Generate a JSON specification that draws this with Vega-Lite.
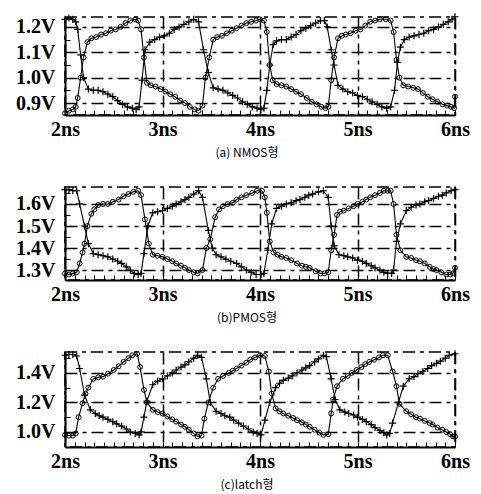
{
"$schema":"https://vega.github.io/schema/vega-lite/v6.json",
"background":"white",
"padding":{"left":14,"top":10,"right":5,"bottom":0},
"spacing":22,
"config":{
 "view":{"stroke":"black","strokeDash":[12,5,4,5],"strokeWidth":1.5},
 "axis":{"domainColor":"black","domainWidth":2,"tickColor":"black","tickWidth":1,"tickSize":-5,"labelFont":"Liberation Serif","labelFontWeight":"bold","labelFontSize":20,"labelColor":"black","gridColor":"black","gridDash":[12,5,4,5],"gridWidth":1.5,"title":null,"labelOverlap":false,"labelFlush":false},
 "axisX":{"labelPadding":9},
 "axisY":{"labelPadding":15},
 "title":{"font":"Noto Sans CJK KR","fontSize":12,"fontWeight":"normal","color":"black","orient":"bottom","offset":9,"anchor":"middle","frame":"group","dx":-13}
},
"datasets":{
"a":[
{"s":"A","t":2.0,"v":0.86},{"s":"A","t":2.04,"v":0.87},{"s":"A","t":2.08,"v":0.875},{"s":"A","t":2.11,"v":0.885},{"s":"A","t":2.13,"v":0.92},{"s":"A","t":2.16,"v":1.0},{"s":"A","t":2.19,"v":1.08},{"s":"A","t":2.23,"v":1.14},{"s":"A","t":2.27,"v":1.155},{"s":"A","t":2.32,"v":1.16},{"s":"A","t":2.37,"v":1.17},{"s":"A","t":2.42,"v":1.175},{"s":"A","t":2.47,"v":1.185},{"s":"A","t":2.52,"v":1.19},{"s":"A","t":2.57,"v":1.2},{"s":"A","t":2.62,"v":1.215},{"s":"A","t":2.67,"v":1.225},{"s":"A","t":2.72,"v":1.23},{"s":"A","t":2.75,"v":1.225},{"s":"A","t":2.78,"v":1.19},{"s":"A","t":2.81,"v":1.08},{"s":"A","t":2.84,"v":0.98},{"s":"A","t":2.88,"v":0.97},{"s":"A","t":2.93,"v":0.965},{"s":"A","t":2.98,"v":0.955},{"s":"A","t":3.03,"v":0.945},{"s":"A","t":3.08,"v":0.935},{"s":"A","t":3.13,"v":0.925},{"s":"A","t":3.18,"v":0.91},{"s":"A","t":3.23,"v":0.9},{"s":"A","t":3.28,"v":0.885},{"s":"A","t":3.33,"v":0.875},{"s":"A","t":3.37,"v":0.87},{"s":"A","t":3.41,"v":0.89},{"s":"A","t":3.44,"v":1.0},{"s":"A","t":3.48,"v":1.08},{"s":"A","t":3.52,"v":1.15},{"s":"A","t":3.56,"v":1.16},{"s":"A","t":3.61,"v":1.165},{"s":"A","t":3.66,"v":1.175},{"s":"A","t":3.71,"v":1.185},{"s":"A","t":3.76,"v":1.195},{"s":"A","t":3.81,"v":1.205},{"s":"A","t":3.86,"v":1.215},{"s":"A","t":3.91,"v":1.22},{"s":"A","t":3.96,"v":1.225},{"s":"A","t":4.0,"v":1.23},{"s":"A","t":4.04,"v":1.225},{"s":"A","t":4.07,"v":1.18},{"s":"A","t":4.1,"v":1.05},{"s":"A","t":4.13,"v":0.99},{"s":"A","t":4.17,"v":0.975},{"s":"A","t":4.22,"v":0.97},{"s":"A","t":4.27,"v":0.965},{"s":"A","t":4.32,"v":0.955},{"s":"A","t":4.37,"v":0.945},{"s":"A","t":4.42,"v":0.935},{"s":"A","t":4.48,"v":0.92},{"s":"A","t":4.53,"v":0.905},{"s":"A","t":4.58,"v":0.895},{"s":"A","t":4.63,"v":0.885},{"s":"A","t":4.67,"v":0.88},{"s":"A","t":4.7,"v":0.885},{"s":"A","t":4.73,"v":0.99},{"s":"A","t":4.76,"v":1.08},{"s":"A","t":4.8,"v":1.155},{"s":"A","t":4.84,"v":1.165},{"s":"A","t":4.88,"v":1.17},{"s":"A","t":4.93,"v":1.175},{"s":"A","t":4.98,"v":1.185},{"s":"A","t":5.03,"v":1.19},{"s":"A","t":5.08,"v":1.205},{"s":"A","t":5.13,"v":1.22},{"s":"A","t":5.18,"v":1.225},{"s":"A","t":5.23,"v":1.23},{"s":"A","t":5.29,"v":1.23},{"s":"A","t":5.34,"v":1.225},{"s":"A","t":5.37,"v":1.18},{"s":"A","t":5.4,"v":1.07},{"s":"A","t":5.43,"v":1.0},{"s":"A","t":5.47,"v":0.97},{"s":"A","t":5.52,"v":0.965},{"s":"A","t":5.57,"v":0.96},{"s":"A","t":5.62,"v":0.955},{"s":"A","t":5.67,"v":0.94},{"s":"A","t":5.72,"v":0.925},{"s":"A","t":5.77,"v":0.915},{"s":"A","t":5.82,"v":0.905},{"s":"A","t":5.87,"v":0.895},{"s":"A","t":5.92,"v":0.89},{"s":"A","t":5.96,"v":0.885},{"s":"A","t":5.99,"v":0.88},{"s":"A","t":6.0,"v":0.925},
{"s":"B","t":2.0,"v":1.23},{"s":"B","t":2.04,"v":1.235},{"s":"B","t":2.08,"v":1.23},{"s":"B","t":2.11,"v":1.22},{"s":"B","t":2.13,"v":1.19},{"s":"B","t":2.16,"v":1.09},{"s":"B","t":2.19,"v":1.0},{"s":"B","t":2.24,"v":0.955},{"s":"B","t":2.29,"v":0.95},{"s":"B","t":2.34,"v":0.95},{"s":"B","t":2.39,"v":0.945},{"s":"B","t":2.44,"v":0.935},{"s":"B","t":2.49,"v":0.925},{"s":"B","t":2.54,"v":0.91},{"s":"B","t":2.59,"v":0.895},{"s":"B","t":2.64,"v":0.885},{"s":"B","t":2.69,"v":0.88},{"s":"B","t":2.73,"v":0.875},{"s":"B","t":2.76,"v":0.885},{"s":"B","t":2.79,"v":0.99},{"s":"B","t":2.82,"v":1.11},{"s":"B","t":2.87,"v":1.14},{"s":"B","t":2.92,"v":1.15},{"s":"B","t":2.97,"v":1.16},{"s":"B","t":3.02,"v":1.165},{"s":"B","t":3.07,"v":1.175},{"s":"B","t":3.12,"v":1.19},{"s":"B","t":3.17,"v":1.2},{"s":"B","t":3.22,"v":1.21},{"s":"B","t":3.27,"v":1.22},{"s":"B","t":3.32,"v":1.23},{"s":"B","t":3.37,"v":1.22},{"s":"B","t":3.42,"v":1.11},{"s":"B","t":3.47,"v":1.02},{"s":"B","t":3.52,"v":0.96},{"s":"B","t":3.57,"v":0.955},{"s":"B","t":3.62,"v":0.95},{"s":"B","t":3.67,"v":0.94},{"s":"B","t":3.72,"v":0.93},{"s":"B","t":3.77,"v":0.92},{"s":"B","t":3.82,"v":0.905},{"s":"B","t":3.87,"v":0.895},{"s":"B","t":3.92,"v":0.885},{"s":"B","t":3.97,"v":0.88},{"s":"B","t":4.01,"v":0.875},{"s":"B","t":4.04,"v":0.88},{"s":"B","t":4.07,"v":0.95},{"s":"B","t":4.1,"v":1.05},{"s":"B","t":4.135,"v":1.13},{"s":"B","t":4.17,"v":1.145},{"s":"B","t":4.22,"v":1.15},{"s":"B","t":4.27,"v":1.15},{"s":"B","t":4.32,"v":1.16},{"s":"B","t":4.37,"v":1.17},{"s":"B","t":4.42,"v":1.185},{"s":"B","t":4.47,"v":1.195},{"s":"B","t":4.52,"v":1.205},{"s":"B","t":4.57,"v":1.215},{"s":"B","t":4.62,"v":1.225},{"s":"B","t":4.66,"v":1.225},{"s":"B","t":4.69,"v":1.2},{"s":"B","t":4.73,"v":1.11},{"s":"B","t":4.76,"v":1.05},{"s":"B","t":4.8,"v":0.97},{"s":"B","t":4.85,"v":0.955},{"s":"B","t":4.9,"v":0.945},{"s":"B","t":4.95,"v":0.94},{"s":"B","t":5.0,"v":0.93},{"s":"B","t":5.05,"v":0.925},{"s":"B","t":5.1,"v":0.915},{"s":"B","t":5.15,"v":0.905},{"s":"B","t":5.2,"v":0.895},{"s":"B","t":5.25,"v":0.885},{"s":"B","t":5.3,"v":0.88},{"s":"B","t":5.34,"v":0.885},{"s":"B","t":5.38,"v":0.95},{"s":"B","t":5.41,"v":1.06},{"s":"B","t":5.44,"v":1.12},{"s":"B","t":5.48,"v":1.15},{"s":"B","t":5.53,"v":1.16},{"s":"B","t":5.58,"v":1.165},{"s":"B","t":5.63,"v":1.17},{"s":"B","t":5.68,"v":1.175},{"s":"B","t":5.73,"v":1.185},{"s":"B","t":5.78,"v":1.19},{"s":"B","t":5.83,"v":1.2},{"s":"B","t":5.88,"v":1.21},{"s":"B","t":5.93,"v":1.22},{"s":"B","t":5.97,"v":1.23},{"s":"B","t":6.0,"v":1.24}
],
"b":[
{"s":"A","t":2.0,"v":1.285},{"s":"A","t":2.04,"v":1.28},{"s":"A","t":2.08,"v":1.285},{"s":"A","t":2.12,"v":1.29},{"s":"A","t":2.15,"v":1.33},{"s":"A","t":2.18,"v":1.38},{"s":"A","t":2.2,"v":1.42},{"s":"A","t":2.23,"v":1.5},{"s":"A","t":2.27,"v":1.555},{"s":"A","t":2.3,"v":1.575},{"s":"A","t":2.34,"v":1.595},{"s":"A","t":2.39,"v":1.6},{"s":"A","t":2.44,"v":1.6},{"s":"A","t":2.49,"v":1.61},{"s":"A","t":2.55,"v":1.62},{"s":"A","t":2.6,"v":1.635},{"s":"A","t":2.65,"v":1.645},{"s":"A","t":2.7,"v":1.655},{"s":"A","t":2.75,"v":1.66},{"s":"A","t":2.78,"v":1.64},{"s":"A","t":2.82,"v":1.53},{"s":"A","t":2.86,"v":1.42},{"s":"A","t":2.9,"v":1.37},{"s":"A","t":2.95,"v":1.365},{"s":"A","t":3.0,"v":1.36},{"s":"A","t":3.05,"v":1.35},{"s":"A","t":3.1,"v":1.34},{"s":"A","t":3.14,"v":1.33},{"s":"A","t":3.19,"v":1.32},{"s":"A","t":3.23,"v":1.31},{"s":"A","t":3.27,"v":1.3},{"s":"A","t":3.32,"v":1.29},{"s":"A","t":3.36,"v":1.285},{"s":"A","t":3.41,"v":1.3},{"s":"A","t":3.45,"v":1.4},{"s":"A","t":3.49,"v":1.44},{"s":"A","t":3.54,"v":1.54},{"s":"A","t":3.58,"v":1.575},{"s":"A","t":3.62,"v":1.59},{"s":"A","t":3.67,"v":1.6},{"s":"A","t":3.72,"v":1.605},{"s":"A","t":3.76,"v":1.62},{"s":"A","t":3.81,"v":1.63},{"s":"A","t":3.86,"v":1.64},{"s":"A","t":3.92,"v":1.65},{"s":"A","t":3.97,"v":1.66},{"s":"A","t":4.02,"v":1.66},{"s":"A","t":4.05,"v":1.63},{"s":"A","t":4.07,"v":1.56},{"s":"A","t":4.1,"v":1.43},{"s":"A","t":4.14,"v":1.38},{"s":"A","t":4.18,"v":1.37},{"s":"A","t":4.22,"v":1.36},{"s":"A","t":4.27,"v":1.355},{"s":"A","t":4.32,"v":1.345},{"s":"A","t":4.38,"v":1.33},{"s":"A","t":4.43,"v":1.32},{"s":"A","t":4.47,"v":1.315},{"s":"A","t":4.51,"v":1.31},{"s":"A","t":4.57,"v":1.295},{"s":"A","t":4.62,"v":1.285},{"s":"A","t":4.66,"v":1.285},{"s":"A","t":4.7,"v":1.29},{"s":"A","t":4.73,"v":1.39},{"s":"A","t":4.76,"v":1.46},{"s":"A","t":4.79,"v":1.55},{"s":"A","t":4.82,"v":1.565},{"s":"A","t":4.86,"v":1.57},{"s":"A","t":4.91,"v":1.58},{"s":"A","t":4.96,"v":1.59},{"s":"A","t":5.0,"v":1.6},{"s":"A","t":5.05,"v":1.61},{"s":"A","t":5.09,"v":1.62},{"s":"A","t":5.13,"v":1.63},{"s":"A","t":5.18,"v":1.64},{"s":"A","t":5.23,"v":1.65},{"s":"A","t":5.27,"v":1.66},{"s":"A","t":5.31,"v":1.66},{"s":"A","t":5.34,"v":1.66},{"s":"A","t":5.37,"v":1.6},{"s":"A","t":5.4,"v":1.46},{"s":"A","t":5.44,"v":1.39},{"s":"A","t":5.5,"v":1.36},{"s":"A","t":5.55,"v":1.355},{"s":"A","t":5.6,"v":1.345},{"s":"A","t":5.64,"v":1.34},{"s":"A","t":5.69,"v":1.33},{"s":"A","t":5.74,"v":1.315},{"s":"A","t":5.78,"v":1.305},{"s":"A","t":5.81,"v":1.3},{"s":"A","t":5.86,"v":1.29},{"s":"A","t":5.91,"v":1.28},{"s":"A","t":5.95,"v":1.28},{"s":"A","t":5.98,"v":1.285},{"s":"A","t":6.0,"v":1.31},
{"s":"B","t":2.0,"v":1.665},{"s":"B","t":2.04,"v":1.665},{"s":"B","t":2.08,"v":1.66},{"s":"B","t":2.12,"v":1.66},{"s":"B","t":2.15,"v":1.6},{"s":"B","t":2.2,"v":1.5},{"s":"B","t":2.24,"v":1.42},{"s":"B","t":2.29,"v":1.375},{"s":"B","t":2.34,"v":1.37},{"s":"B","t":2.39,"v":1.365},{"s":"B","t":2.44,"v":1.36},{"s":"B","t":2.49,"v":1.35},{"s":"B","t":2.54,"v":1.34},{"s":"B","t":2.58,"v":1.33},{"s":"B","t":2.63,"v":1.315},{"s":"B","t":2.67,"v":1.3},{"s":"B","t":2.71,"v":1.285},{"s":"B","t":2.75,"v":1.28},{"s":"B","t":2.78,"v":1.285},{"s":"B","t":2.81,"v":1.375},{"s":"B","t":2.85,"v":1.5},{"s":"B","t":2.9,"v":1.56},{"s":"B","t":2.95,"v":1.565},{"s":"B","t":3.0,"v":1.57},{"s":"B","t":3.05,"v":1.58},{"s":"B","t":3.1,"v":1.59},{"s":"B","t":3.14,"v":1.6},{"s":"B","t":3.19,"v":1.61},{"s":"B","t":3.23,"v":1.62},{"s":"B","t":3.27,"v":1.63},{"s":"B","t":3.32,"v":1.645},{"s":"B","t":3.37,"v":1.66},{"s":"B","t":3.41,"v":1.63},{"s":"B","t":3.47,"v":1.48},{"s":"B","t":3.51,"v":1.4},{"s":"B","t":3.55,"v":1.37},{"s":"B","t":3.6,"v":1.36},{"s":"B","t":3.65,"v":1.35},{"s":"B","t":3.7,"v":1.34},{"s":"B","t":3.76,"v":1.33},{"s":"B","t":3.81,"v":1.315},{"s":"B","t":3.86,"v":1.3},{"s":"B","t":3.91,"v":1.29},{"s":"B","t":3.96,"v":1.28},{"s":"B","t":4.01,"v":1.28},{"s":"B","t":4.04,"v":1.285},{"s":"B","t":4.08,"v":1.39},{"s":"B","t":4.12,"v":1.51},{"s":"B","t":4.17,"v":1.58},{"s":"B","t":4.22,"v":1.59},{"s":"B","t":4.27,"v":1.6},{"s":"B","t":4.32,"v":1.605},{"s":"B","t":4.37,"v":1.615},{"s":"B","t":4.41,"v":1.62},{"s":"B","t":4.46,"v":1.63},{"s":"B","t":4.5,"v":1.64},{"s":"B","t":4.54,"v":1.645},{"s":"B","t":4.6,"v":1.655},{"s":"B","t":4.65,"v":1.66},{"s":"B","t":4.7,"v":1.63},{"s":"B","t":4.73,"v":1.5},{"s":"B","t":4.76,"v":1.41},{"s":"B","t":4.81,"v":1.37},{"s":"B","t":4.86,"v":1.365},{"s":"B","t":4.9,"v":1.36},{"s":"B","t":4.95,"v":1.355},{"s":"B","t":5.0,"v":1.345},{"s":"B","t":5.05,"v":1.34},{"s":"B","t":5.09,"v":1.33},{"s":"B","t":5.14,"v":1.32},{"s":"B","t":5.18,"v":1.31},{"s":"B","t":5.23,"v":1.3},{"s":"B","t":5.27,"v":1.29},{"s":"B","t":5.31,"v":1.285},{"s":"B","t":5.35,"v":1.285},{"s":"B","t":5.37,"v":1.3},{"s":"B","t":5.4,"v":1.43},{"s":"B","t":5.44,"v":1.51},{"s":"B","t":5.5,"v":1.57},{"s":"B","t":5.55,"v":1.585},{"s":"B","t":5.6,"v":1.595},{"s":"B","t":5.64,"v":1.6},{"s":"B","t":5.69,"v":1.61},{"s":"B","t":5.73,"v":1.615},{"s":"B","t":5.78,"v":1.625},{"s":"B","t":5.83,"v":1.635},{"s":"B","t":5.87,"v":1.64},{"s":"B","t":5.91,"v":1.65},{"s":"B","t":5.96,"v":1.66},{"s":"B","t":6.0,"v":1.665}
],
"c":[
{"s":"A","t":2.0,"v":0.98},{"s":"A","t":2.04,"v":0.975},{"s":"A","t":2.08,"v":0.975},{"s":"A","t":2.11,"v":0.99},{"s":"A","t":2.14,"v":1.1},{"s":"A","t":2.18,"v":1.195},{"s":"A","t":2.21,"v":1.26},{"s":"A","t":2.24,"v":1.3},{"s":"A","t":2.29,"v":1.36},{"s":"A","t":2.34,"v":1.37},{"s":"A","t":2.39,"v":1.375},{"s":"A","t":2.44,"v":1.395},{"s":"A","t":2.5,"v":1.42},{"s":"A","t":2.55,"v":1.445},{"s":"A","t":2.6,"v":1.475},{"s":"A","t":2.65,"v":1.5},{"s":"A","t":2.69,"v":1.52},{"s":"A","t":2.74,"v":1.53},{"s":"A","t":2.77,"v":1.44},{"s":"A","t":2.81,"v":1.285},{"s":"A","t":2.84,"v":1.2},{"s":"A","t":2.9,"v":1.15},{"s":"A","t":2.95,"v":1.135},{"s":"A","t":3.0,"v":1.125},{"s":"A","t":3.05,"v":1.105},{"s":"A","t":3.1,"v":1.085},{"s":"A","t":3.14,"v":1.07},{"s":"A","t":3.19,"v":1.05},{"s":"A","t":3.23,"v":1.035},{"s":"A","t":3.27,"v":1.015},{"s":"A","t":3.32,"v":0.99},{"s":"A","t":3.36,"v":0.97},{"s":"A","t":3.4,"v":0.975},{"s":"A","t":3.43,"v":1.09},{"s":"A","t":3.47,"v":1.2},{"s":"A","t":3.52,"v":1.3},{"s":"A","t":3.57,"v":1.36},{"s":"A","t":3.62,"v":1.38},{"s":"A","t":3.68,"v":1.4},{"s":"A","t":3.72,"v":1.415},{"s":"A","t":3.76,"v":1.43},{"s":"A","t":3.81,"v":1.45},{"s":"A","t":3.86,"v":1.47},{"s":"A","t":3.9,"v":1.49},{"s":"A","t":3.95,"v":1.505},{"s":"A","t":4.0,"v":1.52},{"s":"A","t":4.05,"v":1.515},{"s":"A","t":4.09,"v":1.41},{"s":"A","t":4.12,"v":1.26},{"s":"A","t":4.16,"v":1.16},{"s":"A","t":4.2,"v":1.14},{"s":"A","t":4.24,"v":1.125},{"s":"A","t":4.29,"v":1.11},{"s":"A","t":4.34,"v":1.095},{"s":"A","t":4.38,"v":1.08},{"s":"A","t":4.43,"v":1.065},{"s":"A","t":4.47,"v":1.05},{"s":"A","t":4.51,"v":1.035},{"s":"A","t":4.56,"v":1.015},{"s":"A","t":4.61,"v":0.995},{"s":"A","t":4.65,"v":0.98},{"s":"A","t":4.7,"v":0.985},{"s":"A","t":4.73,"v":1.125},{"s":"A","t":4.75,"v":1.22},{"s":"A","t":4.79,"v":1.31},{"s":"A","t":4.85,"v":1.36},{"s":"A","t":4.9,"v":1.38},{"s":"A","t":4.94,"v":1.4},{"s":"A","t":4.99,"v":1.42},{"s":"A","t":5.04,"v":1.44},{"s":"A","t":5.08,"v":1.46},{"s":"A","t":5.12,"v":1.475},{"s":"A","t":5.17,"v":1.49},{"s":"A","t":5.22,"v":1.505},{"s":"A","t":5.26,"v":1.52},{"s":"A","t":5.31,"v":1.52},{"s":"A","t":5.36,"v":1.41},{"s":"A","t":5.4,"v":1.31},{"s":"A","t":5.43,"v":1.19},{"s":"A","t":5.5,"v":1.14},{"s":"A","t":5.55,"v":1.12},{"s":"A","t":5.6,"v":1.1},{"s":"A","t":5.64,"v":1.09},{"s":"A","t":5.69,"v":1.075},{"s":"A","t":5.74,"v":1.06},{"s":"A","t":5.77,"v":1.05},{"s":"A","t":5.82,"v":1.03},{"s":"A","t":5.87,"v":1.015},{"s":"A","t":5.91,"v":1.0},{"s":"A","t":5.95,"v":0.985},{"s":"A","t":5.98,"v":0.97},{"s":"A","t":6.0,"v":0.97},
{"s":"B","t":2.0,"v":1.52},{"s":"B","t":2.04,"v":1.525},{"s":"B","t":2.08,"v":1.525},{"s":"B","t":2.12,"v":1.515},{"s":"B","t":2.15,"v":1.43},{"s":"B","t":2.2,"v":1.25},{"s":"B","t":2.26,"v":1.15},{"s":"B","t":2.31,"v":1.125},{"s":"B","t":2.35,"v":1.11},{"s":"B","t":2.39,"v":1.1},{"s":"B","t":2.44,"v":1.085},{"s":"B","t":2.49,"v":1.07},{"s":"B","t":2.53,"v":1.055},{"s":"B","t":2.58,"v":1.04},{"s":"B","t":2.63,"v":1.02},{"s":"B","t":2.67,"v":1.0},{"s":"B","t":2.72,"v":0.99},{"s":"B","t":2.76,"v":0.98},{"s":"B","t":2.78,"v":1.0},{"s":"B","t":2.81,"v":1.1},{"s":"B","t":2.84,"v":1.21},{"s":"B","t":2.9,"v":1.32},{"s":"B","t":2.95,"v":1.345},{"s":"B","t":3.0,"v":1.36},{"s":"B","t":3.05,"v":1.38},{"s":"B","t":3.1,"v":1.4},{"s":"B","t":3.14,"v":1.42},{"s":"B","t":3.19,"v":1.44},{"s":"B","t":3.23,"v":1.455},{"s":"B","t":3.27,"v":1.475},{"s":"B","t":3.32,"v":1.5},{"s":"B","t":3.36,"v":1.52},{"s":"B","t":3.4,"v":1.505},{"s":"B","t":3.45,"v":1.36},{"s":"B","t":3.49,"v":1.2},{"s":"B","t":3.55,"v":1.14},{"s":"B","t":3.6,"v":1.125},{"s":"B","t":3.64,"v":1.11},{"s":"B","t":3.69,"v":1.1},{"s":"B","t":3.73,"v":1.08},{"s":"B","t":3.78,"v":1.06},{"s":"B","t":3.83,"v":1.04},{"s":"B","t":3.88,"v":1.02},{"s":"B","t":3.93,"v":1.0},{"s":"B","t":3.97,"v":0.99},{"s":"B","t":4.01,"v":0.98},{"s":"B","t":4.05,"v":1.08},{"s":"B","t":4.1,"v":1.2},{"s":"B","t":4.16,"v":1.3},{"s":"B","t":4.2,"v":1.33},{"s":"B","t":4.24,"v":1.35},{"s":"B","t":4.29,"v":1.365},{"s":"B","t":4.33,"v":1.38},{"s":"B","t":4.38,"v":1.4},{"s":"B","t":4.43,"v":1.42},{"s":"B","t":4.47,"v":1.435},{"s":"B","t":4.51,"v":1.45},{"s":"B","t":4.56,"v":1.475},{"s":"B","t":4.6,"v":1.495},{"s":"B","t":4.65,"v":1.52},{"s":"B","t":4.68,"v":1.51},{"s":"B","t":4.73,"v":1.36},{"s":"B","t":4.77,"v":1.22},{"s":"B","t":4.82,"v":1.15},{"s":"B","t":4.87,"v":1.135},{"s":"B","t":4.91,"v":1.125},{"s":"B","t":4.96,"v":1.115},{"s":"B","t":5.0,"v":1.1},{"s":"B","t":5.05,"v":1.085},{"s":"B","t":5.09,"v":1.07},{"s":"B","t":5.14,"v":1.05},{"s":"B","t":5.18,"v":1.03},{"s":"B","t":5.23,"v":1.01},{"s":"B","t":5.27,"v":0.995},{"s":"B","t":5.3,"v":0.98},{"s":"B","t":5.33,"v":0.99},{"s":"B","t":5.36,"v":1.06},{"s":"B","t":5.42,"v":1.2},{"s":"B","t":5.47,"v":1.31},{"s":"B","t":5.53,"v":1.36},{"s":"B","t":5.58,"v":1.375},{"s":"B","t":5.62,"v":1.395},{"s":"B","t":5.67,"v":1.41},{"s":"B","t":5.72,"v":1.43},{"s":"B","t":5.76,"v":1.45},{"s":"B","t":5.81,"v":1.465},{"s":"B","t":5.85,"v":1.48},{"s":"B","t":5.9,"v":1.5},{"s":"B","t":5.94,"v":1.52},{"s":"B","t":6.0,"v":1.53}
]
},
"vconcat":[
{
 "width":390,"height":98,
 "data":{"name":"a"},
 "title":{"text":"(a) NMOS형"},
 "encoding":{
  "x":{"field":"t","type":"quantitative","scale":{"domain":[2,6],"nice":false,"zero":false},
   "axis":{"values":[2,2.1,2.2,2.3,2.4,2.5,2.6,2.7,2.8,2.9,3,3.1,3.2,3.3,3.4,3.5,3.6,3.7,3.8,3.9,4,4.1,4.2,4.3,4.4,4.5,4.6,4.7,4.8,4.9,5,5.1,5.2,5.3,5.4,5.5,5.6,5.7,5.8,5.9,6],
    "labelExpr":"datum.value % 1 === 0 ? datum.value + 'ns' : ''",
    "gridOpacity":{"condition":{"test":"datum.value % 1 === 0","value":1},"value":0}}},
  "y":{"field":"v","type":"quantitative","scale":{"domain":[0.853,1.239],"nice":false,"zero":false},
   "axis":{"values":[0.9,0.95,1,1.05,1.1,1.15,1.2],
    "labelExpr":"abs(datum.value*10 - round(datum.value*10)) < 0.01 ? format(datum.value, '.1f') + 'V' : ''",
    "gridOpacity":{"condition":{"test":"abs(datum.value*10 - round(datum.value*10)) < 0.01","value":1},"value":0}}}
 },
 "layer":[
  {"mark":{"type":"line","color":"black","strokeWidth":1.1},"encoding":{"detail":{"field":"s"}}},
  {"transform":[{"filter":"datum.s === 'A'"}],"mark":{"type":"point","shape":"circle","filled":false,"color":"black","size":24,"strokeWidth":1,"opacity":1}},
  {"transform":[{"filter":"datum.s === 'B'"}],"mark":{"type":"point","shape":"M-1,0H1M0,-1V1","filled":false,"color":"black","size":49,"strokeWidth":1.2,"opacity":1}}
 ]
},
{
 "width":390,"height":93,
 "data":{"name":"b"},
 "title":{"text":"(b)PMOS형"},
 "encoding":{
  "x":{"field":"t","type":"quantitative","scale":{"domain":[2,6],"nice":false,"zero":false},
   "axis":{"values":[2,2.1,2.2,2.3,2.4,2.5,2.6,2.7,2.8,2.9,3,3.1,3.2,3.3,3.4,3.5,3.6,3.7,3.8,3.9,4,4.1,4.2,4.3,4.4,4.5,4.6,4.7,4.8,4.9,5,5.1,5.2,5.3,5.4,5.5,5.6,5.7,5.8,5.9,6],
    "labelExpr":"datum.value % 1 === 0 ? datum.value + 'ns' : ''",
    "gridOpacity":{"condition":{"test":"datum.value % 1 === 0","value":1},"value":0}}},
  "y":{"field":"v","type":"quantitative","scale":{"domain":[1.255,1.677],"nice":false,"zero":false},
   "axis":{"values":[1.3,1.35,1.4,1.45,1.5,1.55,1.6,1.65],
    "labelExpr":"abs(datum.value*10 - round(datum.value*10)) < 0.01 ? format(datum.value, '.1f') + 'V' : ''",
    "gridOpacity":{"condition":{"test":"abs(datum.value*10 - round(datum.value*10)) < 0.01","value":1},"value":0}}}
 },
 "layer":[
  {"mark":{"type":"line","color":"black","strokeWidth":1.1},"encoding":{"detail":{"field":"s"}}},
  {"transform":[{"filter":"datum.s === 'A'"}],"mark":{"type":"point","shape":"circle","filled":false,"color":"black","size":24,"strokeWidth":1,"opacity":1}},
  {"transform":[{"filter":"datum.s === 'B'"}],"mark":{"type":"point","shape":"M-1,0H1M0,-1V1","filled":false,"color":"black","size":49,"strokeWidth":1.2,"opacity":1}}
 ]
},
{
 "width":390,"height":95,
 "data":{"name":"c"},
 "title":{"text":"(c)latch형"},
 "encoding":{
  "x":{"field":"t","type":"quantitative","scale":{"domain":[2,6],"nice":false,"zero":false},
   "axis":{"values":[2,2.1,2.2,2.3,2.4,2.5,2.6,2.7,2.8,2.9,3,3.1,3.2,3.3,3.4,3.5,3.6,3.7,3.8,3.9,4,4.1,4.2,4.3,4.4,4.5,4.6,4.7,4.8,4.9,5,5.1,5.2,5.3,5.4,5.5,5.6,5.7,5.8,5.9,6],
    "labelExpr":"datum.value % 1 === 0 ? datum.value + 'ns' : ''",
    "gridOpacity":{"condition":{"test":"datum.value % 1 === 0","value":1},"value":0}}},
  "y":{"field":"v","type":"quantitative","scale":{"domain":[0.898,1.542],"nice":false,"zero":false},
   "axis":{"values":[1,1.1,1.2,1.3,1.4,1.5],
    "labelExpr":"abs(datum.value*5 - round(datum.value*5)) < 0.01 ? format(datum.value, '.1f') + 'V' : ''",
    "gridOpacity":{"condition":{"test":"abs(datum.value*5 - round(datum.value*5)) < 0.01","value":1},"value":0}}}
 },
 "layer":[
  {"mark":{"type":"line","color":"black","strokeWidth":1.1},"encoding":{"detail":{"field":"s"}}},
  {"transform":[{"filter":"datum.s === 'A'"}],"mark":{"type":"point","shape":"circle","filled":false,"color":"black","size":24,"strokeWidth":1,"opacity":1}},
  {"transform":[{"filter":"datum.s === 'B'"}],"mark":{"type":"point","shape":"M-1,0H1M0,-1V1","filled":false,"color":"black","size":49,"strokeWidth":1.2,"opacity":1}}
 ]
}
]
}
